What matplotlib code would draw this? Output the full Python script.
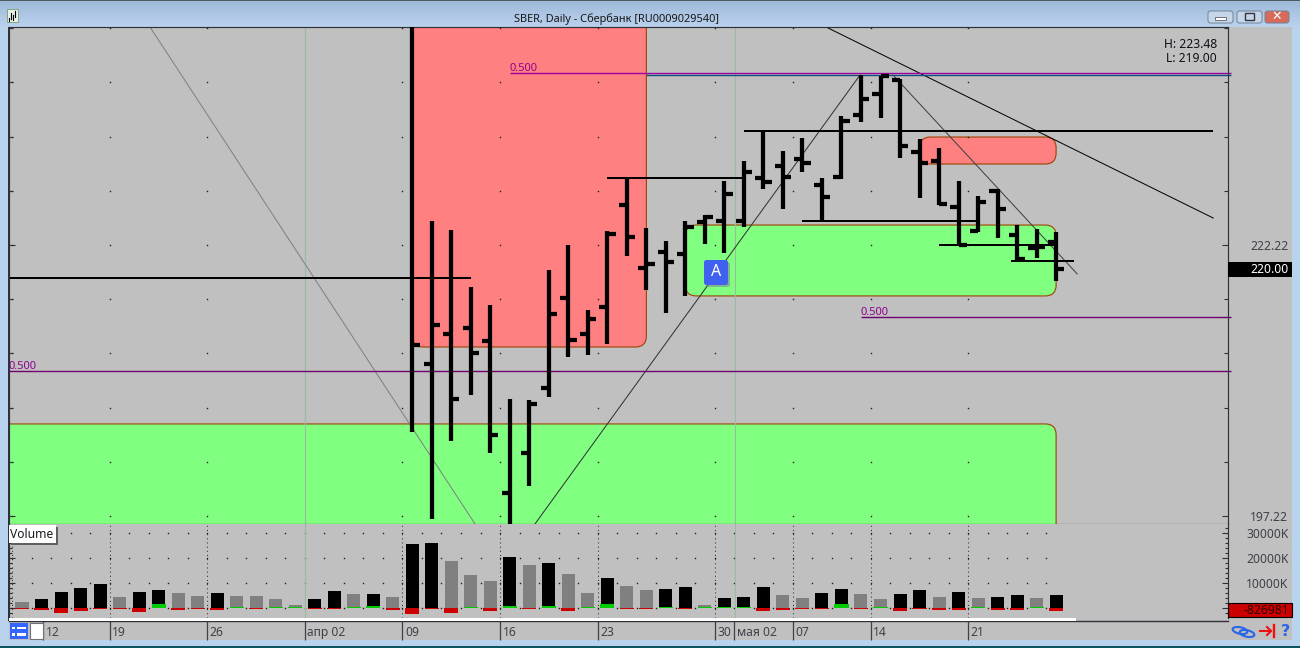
import numpy as np
import matplotlib
matplotlib.use("Agg")
import matplotlib.pyplot as plt
from matplotlib.patches import FancyBboxPatch, Rectangle, Ellipse
from matplotlib.transforms import ScaledTranslation

# ---------- data ----------
bar_index = list(range(20, 54))
opens = [244.0, 211.24, 214.01, 214.56, 213.36, 199.34, 203.03, 209.03, 217.33, 214.01, 216.50, 225.91,
         220.10, 221.57, 221.39, 224.34, 224.43, 224.43, 228.40, 229.51, 230.15, 227.76, 228.49, 234.21,
         236.15, 237.44, 230.80, 229.97, 225.73, 223.51, 227.20, 223.14, 221.94, 222.50]
highs = [246.0, 224.43, 223.60, 218.35, 216.69, 208.01, 207.92, 219.91, 222.22, 216.22, 223.51, 228.40,
         223.79, 222.59, 224.43, 224.99, 228.12, 229.97, 232.74, 230.89, 232.09, 228.40, 234.12, 237.90,
         237.81, 237.53, 232.00, 231.17, 228.12, 226.74, 227.39, 224.06, 223.70, 223.42]
lows = [204.97, 196.94, 204.14, 208.38, 203.03, 190.0, 199.99, 208.20, 211.89, 212.07, 213.09, 221.21,
        218.07, 215.95, 217.52, 222.31, 221.48, 223.88, 227.39, 225.54, 228.95, 224.43, 228.31, 233.57,
        233.94, 230.25, 226.56, 225.91, 222.22, 223.42, 222.87, 220.84, 221.02, 218.90]
closes = [213.00, 214.84, 208.01, 212.26, 204.69, 190.5, 207.55, 215.85, 213.46, 215.39, 223.23, 222.96,
          220.47, 220.65, 223.88, 224.80, 226.92, 228.95, 228.03, 228.49, 229.78, 226.65, 233.66, 235.69,
          237.81, 231.35, 229.78, 226.00, 222.22, 226.19, 225.54, 220.93, 222.04, 220.00]

volumes = [2500, 3700, 6500, 8100, 9700, 4500, 6500, 7300, 6100, 4900, 6100, 4900, 4900, 3700, 1300, 3700,
           6900, 5700, 5700, 4500, 25700, 26100, 18900, 13300, 10900, 20500, 17300, 18100, 13700, 6100,
           12100, 8900, 7300, 7700, 8500, 1300, 4100, 4500, 8500, 5300, 4100, 6100, 7700, 5700, 3700,
           5700, 7300, 4500, 6500, 4100, 4500, 5300, 4100, 5300]
volume_black = [0, 1, 1, 1, 1, 0, 1, 1, 0, 0, 1, 0, 0, 0, 0, 1, 1, 0, 1, 0, 1, 1, 0, 0, 0, 1, 0, 1, 0, 0,
                1, 0, 0, 1, 1, 0, 1, 1, 1, 0, 0, 1, 1, 0, 0, 1, 1, 0, 1, 0, 1, 1, 0, 1]
deltas = [-400, -700, -1900, -1100, -400, -400, -1500, 1700, -700, -400, -700, 500, -400, 500, 500, -400,
          -400, 500, 900, -700, -2300, -400, -1900, 500, -1100, 900, -400, 900, -1100, 500,
          1700, -400, -400, 500, -400, 500, 500, 500, -1100, -700, -400, -400, 1700, -400, 500,
          -1100, -400, -700, -700, 500, -700, -700, 500, -1100]

# zones: x0, x1, price low, price high
red_zones = [(20, 32, 212.81, 246.0), (46, 53, 229.69, 232.18)]
green_zones = [(34, 53, 217.52, 224.06), (-3, 53, 190.0, 205.71)]
# black levels: x0, x1, price
levels = [(-0.67, 23, 219.18), (30, 37, 228.40), (37, 61.05, 232.74), (40, 49, 224.43),
          (47, 53, 222.22), (50.7, 53.9, 220.74)]
# trend lines: x0, x1, price0, price1
trends = [(6.56, 23.22, 242.33, 196.48), (26.29, 42.95, 196.48, 237.90),
          (41.21, 61.05, 242.33, 224.71), (44.64, 54.08, 237.90, 219.55)]
trend_colors = ["#808080", "#303030", "#000000", "#404040"]
# fibonacci 0.500 levels: x0, x1, price
fib_levels = [(25.01, 61.97, 238.05), (-0.67, 61.97, 210.56), (43.0, 61.97, 215.54)]
high_line = (32.0, 61.97, 237.87)

price_labels = [197.22, 222.22]
price_minor = [202.22, 207.22, 212.22, 217.22, 227.22, 232.22, 237.22, 242.22]
vol_labels = [0, 10000, 20000, 30000]
date_ticks = [1.08, 4.5, 9.5, 14.5, 19.5, 24.5, 29.5, 35.5, 36.5, 39.5, 43.5, 48.5]
date_labels = ["12", "19", "26", "апр 02", "09", "16", "23", "30", "мая 02", "07", "14", "21"]
grid_x = [-0.5, 4.5, 9.5, 19.5, 24.5, 29.5, 35.5, 39.5, 43.5, 48.5]
month_lines = [14.5, 36.55]

title = "SBER, Daily - Сбербанк [RU0009029540]"

# ---------- figure ----------
W, H = 1300, 648
plt.rcParams["font.family"] = ["Noto Sans", "DejaVu Sans"]
fig = plt.figure(figsize=(W / 100, H / 100), dpi=100, facecolor="#b9d3ef")
BG = "#c0c0c0"
TXT = "#404048"
FS = 8.7


def add_ax(x0, y0, x1, y1, **kw):
    return fig.add_axes([x0 / W, 1 - y1 / H, (x1 - x0) / W, (y1 - y0) / H], **kw)


# background chrome
back = add_ax(0, 0, W, H, zorder=0)
back.set_xlim(0, W)
back.set_ylim(H, 0)
back.axis("off")
grad = np.linspace(0, 1, 28)[:, None, None] * np.array([[[0.11, 0.09, 0.08]]]) + np.array([[[0.62, 0.73, 0.85]]])
back.imshow(grad, extent=(0, W, 27, 0), aspect="auto", zorder=0)
back.set_xlim(0, W)
back.set_ylim(H, 0)
back.add_patch(Rectangle((0, 27), W, 613, fc="#b9d3ef", ec="none"))
back.add_patch(Rectangle((9, 27), 1283, 613, fc=BG, ec="none"))
back.add_patch(Rectangle((0, 646), W, 2, fc="#0b5560", ec="none"))
back.add_patch(Rectangle((8, 27), 1, 594, fc="#303038", ec="none"))
back.add_patch(Rectangle((0, 0), W, 1, fc="#505860", ec="none"))

# ---------- price pane ----------
ax = add_ax(9, 27, 1228, 524, zorder=2, facecolor=BG)
ax.set_xlim(-0.666, 61.81)
ax.set_ylim(196.48, 242.33)
for x0, x1, p0, p1 in red_zones:
    ax.add_patch(FancyBboxPatch((x0, p0), x1 - x0, p1 - p0, boxstyle="round,pad=0,rounding_size=0.55",
                                mutation_aspect=1.8, fc="#ff8080", ec="#a04000", lw=0.8, zorder=1))
for x0, x1, p0, p1 in green_zones:
    ax.add_patch(FancyBboxPatch((x0, p0), x1 - x0, p1 - p0, boxstyle="round,pad=0,rounding_size=0.55",
                                mutation_aspect=1.8, fc="#80ff80", ec="#a04000", lw=0.8, zorder=1))
gx, gy = np.meshgrid(grid_x, price_labels + price_minor)
ax.plot(gx.ravel(), gy.ravel(), ls="none", marker="s", ms=1.0, mew=0, color="#202020", zorder=1.5)
for m in month_lines:
    ax.axvline(m, color="#98bca0", lw=0.8, zorder=1.6)
for (x0, x1, p0, p1), c in zip(trends, trend_colors):
    ax.plot([x0, x1], [p0, p1], color=c, lw=0.72, zorder=2)
for i, (x0, x1, p) in enumerate(fib_levels):
    ax.plot([x0, x1], [p, p], color="#a000a0" if i == 0 else "#700070", lw=1.0, zorder=2.2, clip_on=False,
            solid_capstyle="butt")
    ax.annotate("0.500", (x0, p), xytext=(0, -0.6), textcoords="offset points", color="#900090",
                fontsize=8.0, ha="left", va="bottom", zorder=2.3)
ax.plot(high_line[:2], [high_line[2]] * 2, color="#105080", lw=1.0, zorder=2.2, clip_on=False, solid_capstyle="butt")
for x0, x1, p in levels:
    ax.plot([x0, x1], [p, p], color="black", lw=1.44, zorder=2.5, solid_capstyle="butt")

bi = np.array(bar_index, dtype=float)
STEM = 3.05
ax.vlines(bi, lows, highs, color="black", lw=STEM, capstyle="butt", zorder=3)
ax.hlines(opens, bi - 0.42, bi, color="black", lw=STEM, capstyle="butt", zorder=3)
ax.hlines(closes, bi, bi + 0.42, color="black", lw=STEM, capstyle="butt", zorder=3)

ax.set_xticks([])
ax.yaxis.tick_right()
ax.set_yticks(price_labels)
ax.set_yticklabels([f"{v:.2f}" for v in price_labels])
ax.set_yticks(price_minor, minor=True)
ax.tick_params(axis="y", which="major", direction="in", length=4.3, width=0.8, color="#303038", left=True, right=True,
               labelright=True, labelleft=False, pad=43.5, labelsize=FS, labelcolor=TXT)
ax.tick_params(axis="y", which="minor", direction="in", length=2.9, width=0.8, color="#303038", left=True, right=True)
for t in ax.get_yticklabels():
    t.set_ha("right")
for s in ax.spines.values():
    s.set_color("#303038")
    s.set_linewidth(0.85)

# ---------- volume pane ----------
vx = add_ax(9, 524, 1228, 618, zorder=2, facecolor=BG)
vx.set_xlim(-0.666, 61.81)
vx.set_ylim(-3880, 33720)
ix = np.arange(len(volumes), dtype=float)
for g in grid_x:
    vx.axvline(g, color="#303030", lw=0.75, ls=(0, (1, 3)), zorder=1)
for m in month_lines:
    vx.axvline(m, color="#98bca0", lw=0.8, zorder=1.2)
dx, dy = np.meshgrid(np.arange(-0.5, 53, 1.0), vol_labels)
vx.plot(dx.ravel(), dy.ravel(), ls="none", marker="s", ms=1.0, mew=0, color="#202020", zorder=1)
bar_cols = ["black" if b else "#808080" for b in volume_black]
vx.bar(ix, volumes, width=0.667, color=bar_cols, zorder=2)
delta_cols = ["#00cc00" if d > 0 else "#cc0000" for d in deltas]
vx.bar(ix, deltas, width=0.72, color=delta_cols, zorder=3)
vx.set_xticks([])
vx.yaxis.tick_right()
vx.set_yticks(vol_labels)
vx.set_yticklabels(["" if v == 0 else f"{v}K" for v in vol_labels])
vx.set_yticks([v for v in range(-2000, 33000, 2000) if v % 10000], minor=True)
vx.tick_params(axis="y", which="major", direction="in", length=4.3, width=0.8, color="#303038", left=True, right=True,
               labelright=True, labelleft=False, pad=43.5, labelsize=FS, labelcolor=TXT)
vx.tick_params(axis="y", which="minor", direction="in", length=2.2, width=0.8, color="#303038", left=True, right=True)
for t in vx.get_yticklabels():
    t.set_ha("right")
for n, s in vx.spines.items():
    s.set_color("#303038")
    s.set_linewidth(0.85)
vx.spines["bottom"].set_visible(False)
vx.spines["top"].set_visible(False)

# ---------- time axis ----------
tx = add_ax(9, 621, 1228, 640, zorder=2, facecolor=BG)
tx.set_xlim(-0.666, 61.81)
tx.set_ylim(0, 1)
tx.set_yticks([])
tx.set_xticks(date_ticks)
tx.set_xticklabels(date_labels)
tx.tick_params(axis="x", direction="in", length=13.7, width=0.9, color="#404048", pad=-10.2,
               labelsize=FS, labelcolor=TXT)
off = ScaledTranslation(2.5 / 72 * 0.72, 0, fig.dpi_scale_trans)
for t in tx.get_xticklabels():
    t.set_ha("left")
    t.set_transform(t.get_transform() + off)
for n, s in tx.spines.items():
    s.set_visible(n == "top")
tx.spines["top"].set_color("#303038")
tx.spines["top"].set_linewidth(1.0)

# ---------- foreground chrome ----------
fr = add_ax(0, 0, W, H, zorder=5)
fr.set_xlim(0, W)
fr.set_ylim(H, 0)
fr.axis("off")
fr.patch.set_alpha(0)
# title and window buttons
fr.text(617, 19, title, ha="center", va="center", fontsize=7.9, color="#181818")
for x0, x1, c in [(1208, 1233, "#c5d6e8"), (1237, 1262, "#c5d6e8"), (1265, 1289, "#d86a5c")]:
    fr.add_patch(FancyBboxPatch((x0, 11), x1 - x0, 12, boxstyle="round,pad=0,rounding_size=2.5", fc=c, ec="#6f8297", lw=0.7))
fr.add_patch(Rectangle((1215, 17), 11, 3, fc="white", ec="#445", lw=0.5))
fr.add_patch(Rectangle((1245, 13), 9, 7, fc="none", ec="#334", lw=1.0))
fr.text(1277, 16.5, "✕", ha="center", va="center", fontsize=9, color="white", fontweight="bold", family="DejaVu Sans")
# app icon
fr.add_patch(Rectangle((7, 9), 11, 13, fc="#e8f0e8", ec="#70a070", lw=0.6))
for xx, a, b in [(9, 18, 21), (11, 13, 19), (13, 15, 20), (15, 11, 17)]:
    fr.plot([xx, xx], [a, b], color="black", lw=0.8)
# H/L
fr.text(1217, 44, "H: 223.48", ha="right", va="center", fontsize=FS, color="#101018")
fr.text(1217, 58, "L: 219.00", ha="right", va="center", fontsize=FS, color="#101018")
# last price label
fr.add_patch(Rectangle((1228, 262), 64, 15, fc="black", ec="none"))
fr.text(1289, 269.3, "220.00", ha="right", va="center", fontsize=FS, color="white")
# delta label
fr.add_patch(Rectangle((1228, 603), 64, 14, fc="#cc0000", ec="black", lw=0.8))
fr.text(1289, 610, "-826981", ha="right", va="center", fontsize=FS, color="#300000")
# A marker
fr.add_patch(FancyBboxPatch((706, 262), 24, 25, boxstyle="round,pad=0,rounding_size=2.5", fc="#808890", ec="none", alpha=0.6))
fr.add_patch(FancyBboxPatch((704, 260), 24, 25, boxstyle="round,pad=0,rounding_size=2.5", fc="#4060f0", ec="none"))
fr.text(716, 272.5, "A", ha="center", va="center", fontsize=11.5, color="white")
# volume label
fr.add_patch(Rectangle((11, 527), 47, 18, fc="#606060", ec="none"))
fr.add_patch(Rectangle((9, 525), 47, 18, fc="white", ec="none"))
fr.text(10, 534, "Volume", ha="left", va="center", fontsize=FS, color="#181820")
# strip under volume
fr.add_patch(Rectangle((9, 618), 1067, 2.6, fc="white", ec="none"))
# bottom-left buttons
fr.add_patch(Rectangle((10, 623), 18, 16, fc="#3366ff", ec="none"))
for yy in (627.5, 634):
    fr.add_patch(Rectangle((12, yy - 1), 3, 2.5, fc="white", ec="none"))
    fr.add_patch(Rectangle((17, yy - 1), 9, 2.5, fc="white", ec="none"))
fr.add_patch(Rectangle((30, 622.5), 13, 16.5, fc="white", ec="#707078", lw=0.8))
# bottom-right icons
fr.add_patch(Ellipse((1240, 630.5), 15, 6.5, angle=12, fc="none", ec="#2a66e8", lw=1.5))
fr.add_patch(Ellipse((1247, 633.5), 15, 6.5, angle=12, fc="none", ec="#2a66e8", lw=1.5))
fr.plot([1260, 1271], [631, 631], color="#ee1111", lw=1.5)
fr.plot([1267, 1271, 1267], [627, 631, 635], color="#ee1111", lw=1.5)
fr.plot([1274, 1274], [625, 637], color="#ee1111", lw=1.7)
fr.text(1285, 631, "?", ha="center", va="center", fontsize=11.5, fontweight="bold", color="#2a66e8", family="DejaVu Sans")
fr.set_xlim(0, W)
fr.set_ylim(H, 0)

fig.savefig("out.png", dpi=100, facecolor=fig.get_facecolor())
